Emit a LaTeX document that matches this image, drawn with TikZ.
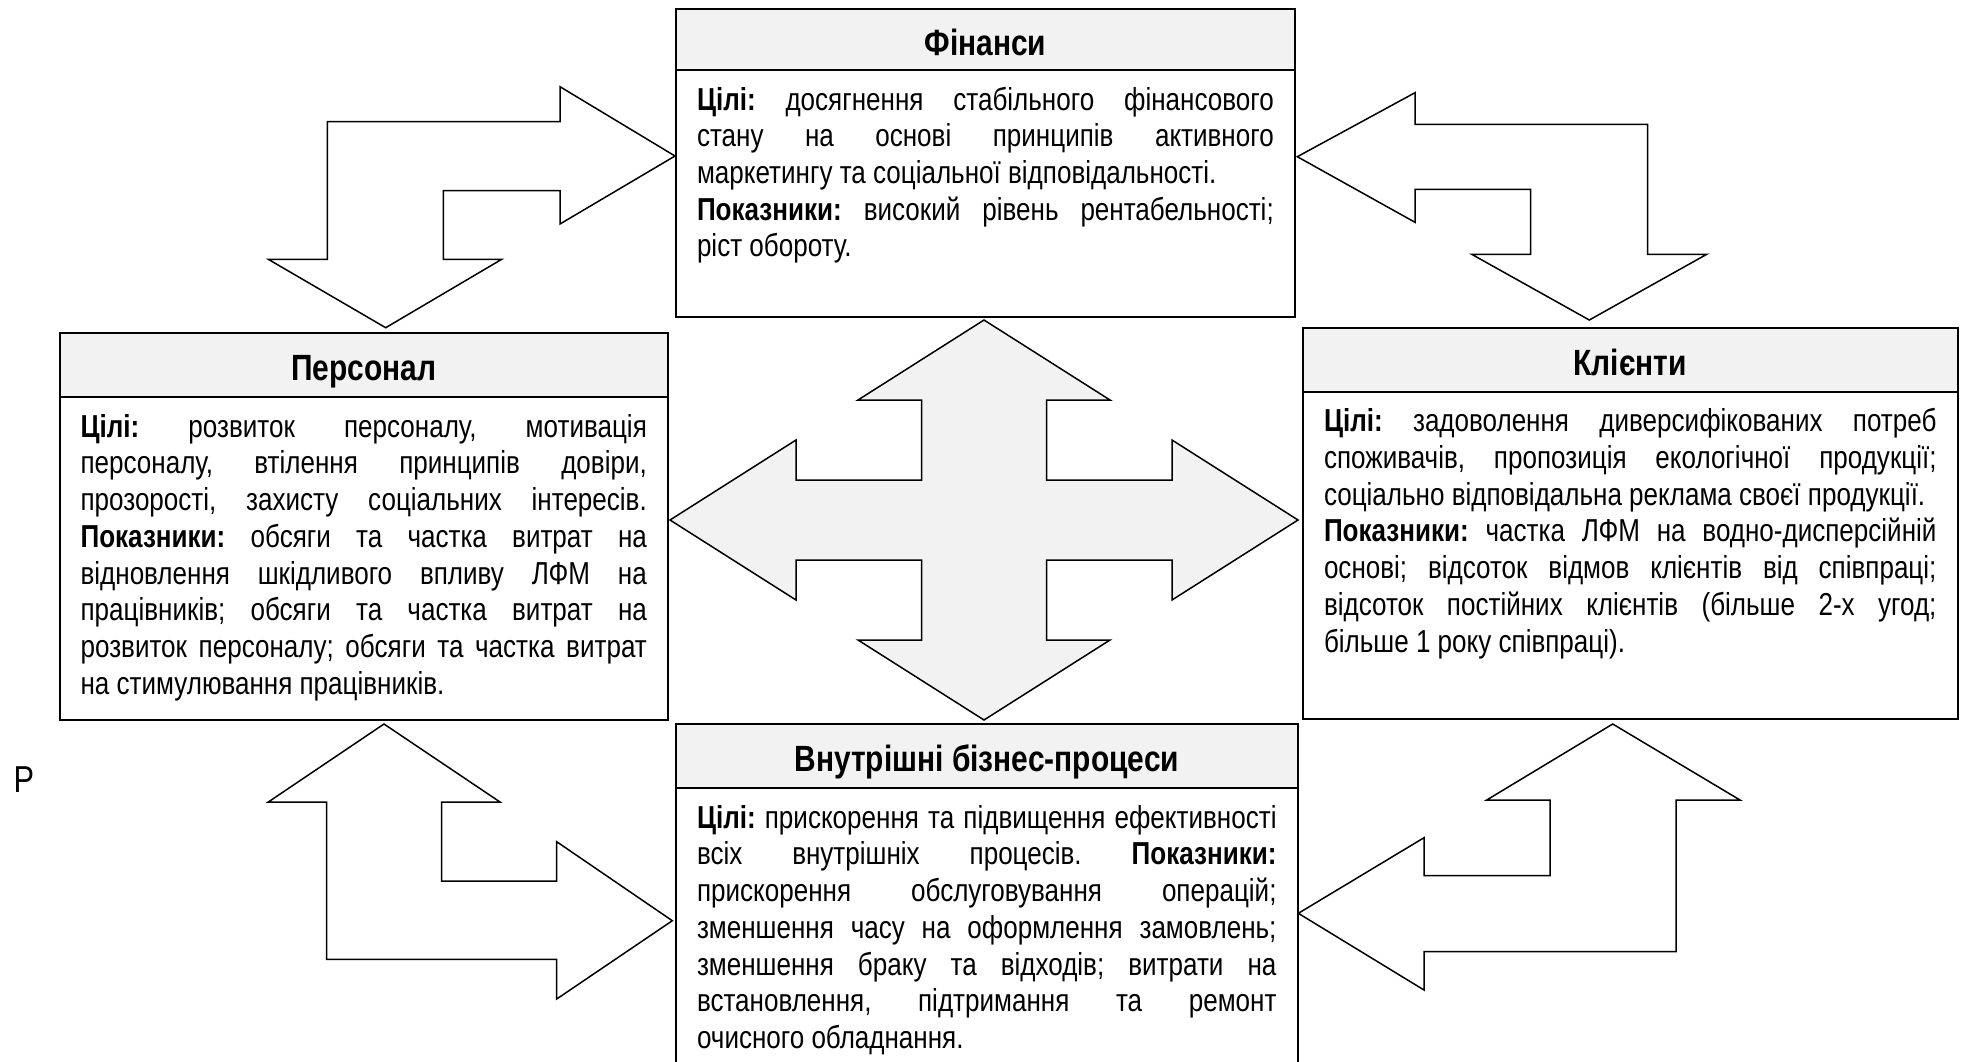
\documentclass[tikz,border=0pt]{standalone}
\usepackage{fontspec}
\setmainfont{Liberation Sans}[FakeStretch=0.82]
\definecolor{bsFill}{RGB}{242, 242, 242}
\definecolor{bsLine}{RGB}{0, 0, 0}
\usetikzlibrary{positioning}
\frenchspacing
\tolerance=10000
\tikzset{
  headbox/.style={rectangle, draw=bsLine, line width=0.8pt, fill=bsFill, minimum width=#1, minimum height=25.6pt, text height=12.5pt, text depth=0pt, inner sep=0pt, outer sep=0pt, anchor=north west, font=\bfseries\fontsize{14.6}{16}\selectfont},
  bodybox/.style={rectangle, draw=bsLine, line width=0.8pt, fill=white, text width=#1, inner xsep=8.4pt, inner ysep=0pt, outer sep=0pt, text height=16pt, align=justify, font=\fontsize{12.7}{14.68}\selectfont},
  bigarrow/.style={draw=bsLine, line width=0.6pt, fill=white, line join=miter},
}

\begin{document}
\begin{tikzpicture}[x=0.4pt, y=-0.4pt]
  \useasboundingbox (0,0) rectangle (1966,1061);
  \fill[white] (0,0) rectangle (1966,1061);

  % bent arrows
  \draw[bigarrow] (675,156) -- (560,86.7) -- (560,121.7) -- (327.3,121.7) -- (327.3,259.3) -- (268.3,259.3) -- (385.7,327.7) -- (501.7,259.3) -- (443.3,259.3) -- (443.3,190.7) -- (560,190.7) -- (560,224) -- cycle;
  \draw[bigarrow] (1297.3,156.7) -- (1415,92.7) -- (1415,124.3) -- (1647.7,124.3) -- (1647.7,254.3) -- (1706.7,254.3) -- (1589.3,320) -- (1471.7,254.3) -- (1530.7,254.3) -- (1530.7,189.3) -- (1415,189.3) -- (1415,222.3) -- cycle;
  \draw[bigarrow] (384,724) -- (500,802) -- (441.7,802) -- (441.7,881) -- (556.7,881) -- (556.7,841.7) -- (672.3,920.7) -- (556.7,999) -- (556.7,959.3) -- (326.7,959.3) -- (326.7,802) -- (268.3,802) -- cycle;
  \draw[bigarrow] (1612.7,724) -- (1740,800) -- (1676,800) -- (1676,951.7) -- (1424,951.7) -- (1424,990) -- (1298.3,913.3) -- (1424,837.7) -- (1424,875.7) -- (1550,875.7) -- (1550,800) -- (1486.7,800) -- cycle;

  % cross in the middle
  \draw[bigarrow, fill=bsFill] (984,320) -- (1110,400) -- (1046.5,400) -- (1046.5,480) -- (1172,480) -- (1172,440) -- (1298,520) -- (1172,600) -- (1172,560) -- (1046.5,560) -- (1046.5,640) -- (1110,640) -- (984,720) -- (858,640) -- (921.5,640) -- (921.5,560) -- (796,560) -- (796,600) -- (670,520) -- (796,440) -- (796,480) -- (921.5,480) -- (921.5,400) -- (858,400) -- cycle;

  \node[headbox=247.5pt, minimum height=24.3pt] (fin-head) at (676,9.3) {Фінанси};
  \node[bodybox=230.7pt, text depth=82.9pt, below=0pt of fin-head] (fin-body) {
    \textbf{Цілі:} досягнення стабільного фінансового\linebreak
    стану на основі принципів активного\linebreak
    маркетингу та соціальної відповідальності.\\
    \textbf{Показники:} високий рівень рентабельності;\linebreak
    ріст обороту.
  };

  \node[headbox=243.3pt, minimum height=25.8pt] (pers-head) at (59.6,332.7) {Персонал};
  \node[bodybox=226.5pt, text depth=113.1pt, below=0pt of pers-head] (pers-body) {
    \textbf{Цілі:} розвиток персоналу, мотивація\linebreak
    персоналу, втілення принципів довіри,\linebreak
    прозорості, захисту соціальних інтересів.\linebreak
    \textbf{Показники:} обсяги та частка витрат на\linebreak
    відновлення шкідливого впливу ЛФМ на\linebreak
    працівників; обсяги та частка витрат на\linebreak
    розвиток персоналу; обсяги та частка витрат\linebreak
    на стимулювання працівників.
  };

  \node[headbox=261.8pt, minimum height=25.4pt] (cli-head) at (1303,328.3) {Клієнти};
  \node[bodybox=245pt, text depth=115pt, below=0pt of cli-head] (cli-body) {
    \textbf{Цілі:} задоволення диверсифікованих потреб\linebreak
    споживачів, пропозиція екологічної продукції;\linebreak
    соціально відповідальна реклама своєї продукції.\\
    \textbf{Показники:} частка ЛФМ на водно-дисперсійній\linebreak
    основі; відсоток відмов клієнтів від співпраці;\linebreak
    відсоток постійних клієнтів (більше 2-х угод;\linebreak
    більше 1 року співпраці).
  };

  \node[headbox=248.6pt, minimum height=25.7pt] (proc-head) at (676,724) {Внутрішні бізнес-процеси};
  \node[bodybox=231.8pt, text depth=110pt, below=0pt of proc-head] (proc-body) {
    \textbf{Цілі:} прискорення та підвищення ефективності\linebreak
    всіх внутрішніх процесів. \textbf{Показники:}\linebreak
    прискорення обслуговування операцій;\linebreak
    зменшення часу на оформлення замовлень;\linebreak
    зменшення браку та відходів; витрати на\linebreak
    встановлення, підтримання та ремонт\linebreak
    очисного обладнання.
  };

  \node[anchor=base west, inner sep=0pt, font=\fontsize{15}{18}\selectfont] (pmark) at (13,792) {P};
\end{tikzpicture}
\end{document}
